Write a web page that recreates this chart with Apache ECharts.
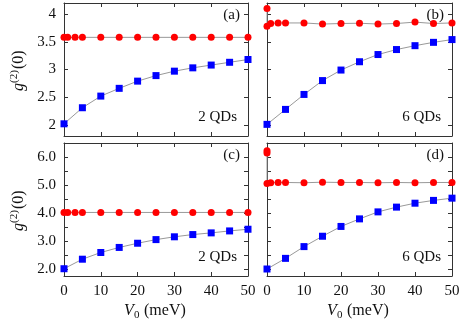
<!DOCTYPE html>
<html>
<head>
<meta charset="utf-8">
<script src="https://cdn.jsdelivr.net/npm/echarts@6/dist/echarts.min.js"></script>
<style>html,body{margin:0;padding:0;background:#fff;}#c{width:463px;height:324px;}</style>
</head>
<body>
<div id="c"></div>
<script>
// ---- data ----
const xBlue = [0, 5, 10, 15, 20, 25, 30, 35, 40, 45, 50];
const xRed2 = [0, 1, 3, 5, 10, 15, 20, 25, 30, 35, 40, 45, 50];
const xRedB = [0, 0, 1, 3, 5, 10, 15, 20, 25, 30, 35, 40, 45, 50];
const xRedD = [0, 0, 0, 1, 3, 5, 10, 15, 20, 25, 30, 35, 40, 45, 50];

const aBlue = [2.02, 2.31, 2.52, 2.66, 2.79, 2.89, 2.97, 3.03, 3.08, 3.13, 3.18];
const aRed  = [3.58, 3.58, 3.58, 3.58, 3.58, 3.58, 3.58, 3.58, 3.58, 3.58, 3.58, 3.58, 3.58];
const bBlue = [2.01, 2.28, 2.55, 2.80, 2.99, 3.14, 3.27, 3.36, 3.43, 3.49, 3.54];
const bRed  = [4.10, 3.78, 3.83, 3.84, 3.84, 3.84, 3.82, 3.83, 3.835, 3.82, 3.83, 3.855, 3.83, 3.84];
const cBlue = [2.01, 2.35, 2.59, 2.77, 2.92, 3.05, 3.15, 3.23, 3.29, 3.36, 3.42];
const cRed  = [4.02, 4.02, 4.02, 4.02, 4.02, 4.02, 4.02, 4.02, 4.02, 4.02, 4.02, 4.02, 4.02];
const dBlue = [2.00, 2.38, 2.80, 3.17, 3.52, 3.79, 4.04, 4.21, 4.35, 4.45, 4.53];
const dRed  = [6.22, 6.14, 5.05, 5.08, 5.09, 5.09, 5.08, 5.10, 5.09, 5.09, 5.08, 5.09, 5.08, 5.09, 5.09];

const xTicks = [0, 10, 20, 30, 40, 50];
const yTicksTop = [2, 2.5, 3, 3.5, 4];
const yLabelsTop = [2, 2.5, 3, 3.5, 4];
const yTicksBot = [2, 2.5, 3, 3.5, 4, 4.5, 5, 5.5, 6, 6.5];
const yLabelsBot = [2, 3, 4, 5, 6];
const panelTags = ['(a)', '(b)', '(c)', '(d)'];
const qdTags = ['2 QDs', '6 QDs', '2 QDs', '6 QDs'];

// ---- layout ----
const FONT = '"Liberation Serif", "DejaVu Serif", serif';
const AX = '#333';
const panels = [
  {left: 64, top: 3, w: 184, h: 133, ymin: 1.8, ymax: 4.2, yt: yTicksTop, yl: yLabelsTop, fmt: v => String(v), showY: true, showX: false},
  {left: 267, top: 3, w: 185, h: 133, ymin: 1.8, ymax: 4.2, yt: yTicksTop, yl: yLabelsTop, fmt: v => String(v), showY: false, showX: false},
  {left: 64, top: 143, w: 184, h: 133, ymin: 1.75, ymax: 6.5, yt: yTicksBot, yl: yLabelsBot, fmt: v => v.toFixed(1), showY: true, showX: true},
  {left: 267, top: 143, w: 185, h: 133, ymin: 1.75, ymax: 6.5, yt: yTicksBot, yl: yLabelsBot, fmt: v => v.toFixed(1), showY: false, showX: true}
];
const blueSets = [aBlue, bBlue, cBlue, dBlue];
const redSets = [[xRed2, aRed], [xRedB, bRed], [xRed2, cRed], [xRedD, dRed]];

const grid = [], xAxis = [], yAxis = [], series = [];
panels.forEach((p, i) => {
  grid.push({left: p.left, top: p.top, width: p.w, height: p.h, containLabel: false});
  const tick = {show: true, inside: true, length: 4, lineStyle: {color: AX, width: 1}};
  // bottom x
  xAxis.push({type: 'value', gridIndex: i, position: 'bottom', min: 0, max: 50, interval: 10,
    axisLine: {show: true, onZero: false, lineStyle: {color: AX, width: 1}},
    axisTick: Object.assign({}, tick, {customValues: xTicks}),
    axisLabel: {show: p.showX, customValues: xTicks, margin: 8, fontFamily: FONT, fontSize: 15, color: '#111'},
    splitLine: {show: false}});
  // top x
  xAxis.push({type: 'value', gridIndex: i, position: 'top', min: 0, max: 50, interval: 10,
    axisLine: {show: true, onZero: false, lineStyle: {color: AX, width: 1}},
    axisTick: Object.assign({}, tick, {customValues: xTicks}),
    axisLabel: {show: false}, splitLine: {show: false}});
  // left y
  yAxis.push({type: 'value', gridIndex: i, position: 'left', min: p.ymin, max: p.ymax,
    axisLine: {show: true, onZero: false, lineStyle: {color: AX, width: 1}},
    axisTick: Object.assign({}, tick, {customValues: p.yt}),
    axisLabel: {show: p.showY, customValues: p.yl, formatter: p.fmt, margin: 8, fontFamily: FONT, fontSize: 15, color: '#111'},
    splitLine: {show: false}});
  // right y
  yAxis.push({type: 'value', gridIndex: i, position: 'right', min: p.ymin, max: p.ymax,
    axisLine: {show: true, onZero: false, lineStyle: {color: AX, width: 1}},
    axisTick: Object.assign({}, tick, {customValues: p.yt}),
    axisLabel: {show: false}, splitLine: {show: false}});

  series.push({type: 'line', xAxisIndex: 2 * i, yAxisIndex: 2 * i,
    data: xBlue.map((x, k) => [x, blueSets[i][k]]),
    symbol: 'rect', symbolSize: 7, showSymbol: true,
    itemStyle: {color: '#0000ff'}, lineStyle: {color: '#999', width: 1}, animation: false, z: 3});
  const [rx, ry] = redSets[i];
  series.push({type: 'line', xAxisIndex: 2 * i, yAxisIndex: 2 * i,
    data: rx.map((x, k) => [x, ry[k]]),
    symbol: 'circle', symbolSize: 7, showSymbol: true,
    itemStyle: {color: '#ff0000'}, lineStyle: {color: '#999', width: 1}, animation: false, z: 4});
});

// ---- text ----
const graphic = [];
panels.forEach((p, i) => {
  const right = p.left + p.w;
  graphic.push({type: 'text', x: right - 8, y: p.top + 12, style: {text: panelTags[i], font: '15px ' + FONT, fill: '#111', textAlign: 'right', textVerticalAlign: 'middle'}});
  graphic.push({type: 'text', x: right - 11, y: p.top + 114, style: {text: qdTags[i], font: '15px ' + FONT, fill: '#111', textAlign: 'right', textVerticalAlign: 'middle'}});
});
// y titles g^(2)(0)
[70, 210].forEach(cy => {
  graphic.push({type: 'group', x: 19, y: cy, rotation: Math.PI / 2, children: [
    {type: 'text', x: -21, y: 0, style: {text: 'g', font: 'italic 16px ' + FONT, fill: '#111', textAlign: 'left', textVerticalAlign: 'middle'}},
    {type: 'text', x: -13, y: -5, style: {text: '(2)', font: '11px ' + FONT, fill: '#111', textAlign: 'left', textVerticalAlign: 'middle'}},
    {type: 'text', x: 1, y: 0, style: {text: '(0)', font: '16px ' + FONT, fill: '#111', textAlign: 'left', textVerticalAlign: 'middle'}}
  ]});
});
// x titles V_0 (meV)
[156, 359].forEach(cx => {
  graphic.push({type: 'group', x: cx, y: 311, children: [
    {type: 'text', x: -32, y: 0, style: {text: 'V', font: 'italic 16px ' + FONT, fill: '#111', textAlign: 'left', textVerticalAlign: 'middle'}},
    {type: 'text', x: -22, y: 4, style: {text: '0', font: '11px ' + FONT, fill: '#111', textAlign: 'left', textVerticalAlign: 'middle'}},
    {type: 'text', x: -12, y: 0, style: {text: '(meV)', font: '16px ' + FONT, fill: '#111', textAlign: 'left', textVerticalAlign: 'middle'}}
  ]});
});

const chart = echarts.init(document.getElementById('c'), null, {renderer: 'canvas'});
chart.setOption({animation: false, backgroundColor: '#fff', grid, xAxis, yAxis, series, graphic});
</script>
</body>
</html>
